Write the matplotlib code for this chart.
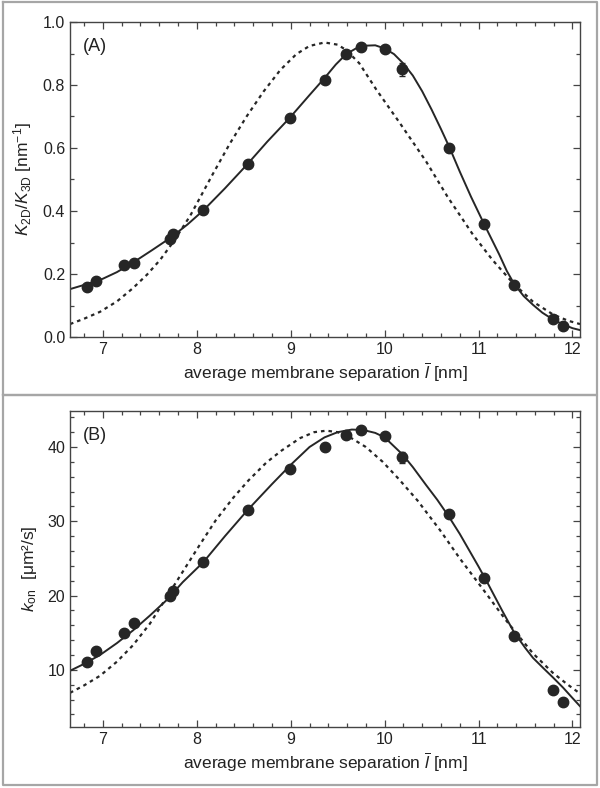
import matplotlib
matplotlib.use('Agg')
import matplotlib.pyplot as plt
from matplotlib.lines import Line2D
from matplotlib.ticker import MultipleLocator

plt.rcParams['font.family'] = ['Liberation Sans', 'DejaVu Sans']
plt.rcParams['mathtext.fontset'] = 'custom'
plt.rcParams['mathtext.rm'] = 'Liberation Sans'
plt.rcParams['mathtext.it'] = 'Liberation Sans:italic'

# measured separations (same for both panels)
sep = [6.83, 6.93, 7.23, 7.33, 7.72, 7.75, 8.07, 8.54, 8.99, 9.36, 9.59,
       9.75, 10.0, 10.19, 10.69, 11.06, 11.38, 11.79, 11.9]

# panel A: K2D/K3D
ratio = [0.160, 0.178, 0.229, 0.236, 0.311, 0.326, 0.402, 0.549, 0.696, 0.816,
         0.898, 0.920, 0.913, 0.850, 0.600, 0.358, 0.165, 0.056, 0.036]
ratio_err = [0.006, 0.006, 0.006, 0.006, 0.006, 0.006, 0.006, 0.010, 0.010, 0.008,
             0.006, 0.006, 0.008, 0.020, 0.012, 0.006, 0.006, 0.006, 0.006]

fitA_x = [6.65, 6.83, 7.0, 7.15, 7.33, 7.52, 7.72, 7.9, 8.07, 8.3, 8.54, 8.75,
          8.99, 9.2, 9.36, 9.48, 9.59, 9.7, 9.81, 9.9, 10.0, 10.1, 10.2, 10.3,
          10.4, 10.5, 10.6, 10.69, 10.8, 10.92, 11.06, 11.22, 11.3, 11.38, 11.48,
          11.58, 11.68, 11.79, 11.9, 12.0, 12.08]
fitA_y = [0.152, 0.168, 0.185, 0.206, 0.238, 0.275, 0.315, 0.357, 0.402, 0.472,
          0.549, 0.620, 0.696, 0.768, 0.822, 0.865, 0.898, 0.917, 0.925, 0.926,
          0.916, 0.898, 0.868, 0.830, 0.780, 0.722, 0.660, 0.602, 0.525, 0.445,
          0.358, 0.262, 0.210, 0.168, 0.130, 0.102, 0.077, 0.056, 0.040, 0.028,
          0.022]

altA_x = [6.65, 6.8, 6.97, 7.15, 7.32, 7.47, 7.61, 7.75, 7.93, 8.03, 8.17, 8.35,
          8.53, 8.71, 8.89, 9.06, 9.2, 9.36, 9.5, 9.59, 9.73, 9.91, 10.16, 10.44,
          10.67, 10.94, 11.15, 11.37, 11.58, 11.79, 11.95, 12.08]
altA_y = [0.041, 0.058, 0.080, 0.113, 0.155, 0.198, 0.245, 0.302, 0.385, 0.440,
          0.517, 0.613, 0.700, 0.779, 0.848, 0.898, 0.924, 0.935, 0.928, 0.911,
          0.869, 0.786, 0.680, 0.558, 0.445, 0.325, 0.244, 0.170, 0.112, 0.072,
          0.052, 0.041]

# panel B: k_on
kon = [11.1, 12.5, 14.9, 16.3, 19.9, 20.6, 24.5, 31.5, 37.1, 40.05, 41.6,
       42.3, 41.5, 38.6, 31.0, 22.4, 14.6, 7.3, 5.65]
kon_err = [0.3, 0.3, 0.3, 0.3, 0.3, 0.3, 0.3, 0.3, 0.3, 0.3, 0.3,
           0.3, 0.3, 0.7, 0.3, 0.3, 0.3, 0.3, 0.3]

fitB_x = [6.65, 6.8, 6.97, 7.15, 7.32, 7.5, 7.68, 7.85, 8.07, 8.3, 8.54, 8.8,
          9.0, 9.2, 9.36, 9.5, 9.65, 9.77, 9.9, 10.0, 10.19, 10.3, 10.44, 10.56,
          10.68, 10.8, 10.9, 11.0, 11.1, 11.25, 11.38, 11.5, 11.58, 11.7, 11.79,
          11.9, 12.0, 12.08]
fitB_y = [9.87, 10.8, 12.0, 13.6, 15.3, 17.3, 19.4, 21.8, 24.5, 28.0, 31.5,
          35.0, 37.6, 40.0, 41.3, 42.0, 42.35, 42.3, 41.9, 41.3, 39.0, 37.3,
          34.9, 32.9, 30.7, 28.3, 26.1, 23.9, 21.6, 18.0, 15.0, 12.9, 11.6, 10.1,
          9.0, 7.6, 6.2, 5.1]

altB_x = [6.65, 6.8, 6.97, 7.15, 7.32, 7.5, 7.72, 7.88, 8.03, 8.2, 8.39, 8.55,
          8.74, 8.9, 9.1, 9.25, 9.38, 9.5, 9.62, 9.8, 9.98, 10.15, 10.35, 10.59,
          10.8, 11.05, 11.29, 11.45, 11.58, 11.79, 11.95, 12.07]
altB_y = [6.9, 7.9, 9.2, 11.1, 13.3, 16.2, 20.6, 23.8, 26.8, 30.1, 33.2, 35.5,
          37.9, 39.5, 41.2, 42.0, 42.2, 42.0, 41.4, 40.0, 38.0, 35.7, 32.8, 28.8,
          25.0, 20.8, 16.7, 14.2, 12.2, 9.6, 8.0, 6.9]

ink = '#262626'
xlabel = r'average membrane separation $\overline{l}$ [nm]'

fig = plt.figure(figsize=(6.0, 7.88), dpi=100)

# grey panel frames
for y0, y1 in [(2, 395), (395, 785)]:
    xs = [3 / 600, 597 / 600, 597 / 600, 3 / 600, 3 / 600]
    ys = [1 - y0 / 788, 1 - y0 / 788, 1 - y1 / 788, 1 - y1 / 788, 1 - y0 / 788]
    fig.add_artist(Line2D(xs, ys, color='#a6a6a6', lw=1.6, transform=fig.transFigure))

axA = fig.add_axes([70 / 600, 1 - 337 / 788, 510 / 600, 315 / 788])
axB = fig.add_axes([70 / 600, 1 - 727 / 788, 510 / 600, 316 / 788])


def style(ax, ymajor, yminor):
    ax.set_xlim(6.65, 12.08)
    ax.xaxis.set_major_locator(MultipleLocator(1))
    ax.xaxis.set_minor_locator(MultipleLocator(0.2))
    ax.yaxis.set_major_locator(MultipleLocator(ymajor))
    ax.yaxis.set_minor_locator(MultipleLocator(yminor))
    ax.tick_params(which='both', direction='in', top=True, right=True,
                   labelright=False, labeltop=False, colors='#444444',
                   labelcolor='#222222', labelsize=11.5, width=0.9)
    ax.tick_params(which='major', length=5)
    ax.tick_params(which='minor', length=3)
    for s in ax.spines.values():
        s.set_color('#444444')
        s.set_linewidth(1.0)
    ax.set_xlabel(xlabel, fontsize=12.5, color='#222222', labelpad=3)


# panel A
axA.plot(fitA_x, fitA_y, color=ink, lw=1.4)
axA.plot(altA_x, altA_y, color=ink, lw=1.6, linestyle=(0, (1.6, 1.8)))
axA.errorbar(sep, ratio, yerr=ratio_err, fmt='o', color=ink, ms=7.5,
             capsize=2, elinewidth=1, zorder=3)
axA.set_ylim(0, 1.0)
style(axA, 0.2, 0.1)
axA.yaxis.set_major_formatter(plt.FuncFormatter(lambda v, p: f'{v:.1f}'))
axA.set_ylabel(r'$K_{\mathrm{2D}}/K_{\mathrm{3D}}$ [nm$^{\mathrm{-1}}$]',
               fontsize=12.5, color='#222222', labelpad=6)
axA.text(0.025, 0.95, '(A)', transform=axA.transAxes, fontsize=13,
         va='top', ha='left', color='#222222')

# panel B
axB.plot(fitB_x, fitB_y, color=ink, lw=1.4)
axB.plot(altB_x, altB_y, color=ink, lw=1.6, linestyle=(0, (1.6, 1.8)))
axB.errorbar(sep, kon, yerr=kon_err, fmt='o', color=ink, ms=7.5,
             capsize=2, elinewidth=1, zorder=3)
axB.set_ylim(2.3, 44.85)
style(axB, 10, 2)
axB.set_ylabel(r'$k_{\mathrm{on}}$  [μm²/s]', fontsize=12.5,
               color='#222222', labelpad=6)
axB.text(0.025, 0.95, '(B)', transform=axB.transAxes, fontsize=13,
         va='top', ha='left', color='#222222')

plt.savefig('out.png', dpi=100)
